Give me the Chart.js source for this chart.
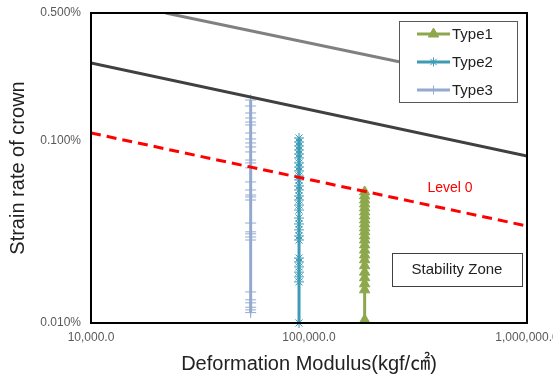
<!DOCTYPE html>
<html>
<head>
<meta charset="utf-8">
<script src="https://cdn.jsdelivr.net/npm/chart.js@4/dist/chart.umd.min.js"></script>
<style>
  html, body { margin: 0; padding: 0; background: #fff; }
  #wrap { width: 553px; height: 380px; }
</style>
</head>
<body>
<div id="wrap"><canvas id="strainChart"></canvas></div>
<script>
// values (strain rate in %)
const xTicks = [10000, 100000, 1000000];
const yTicks = [0.01, 0.1, 0.5];

const type1X = 180000;
const type1Y = [0.0523, 0.0497, 0.0472, 0.0449, 0.0427, 0.0406, 0.0386, 0.0367, 0.0349, 0.0332,
    0.0316, 0.0300, 0.0285, 0.0268, 0.0251, 0.0236, 0.0222, 0.0206, 0.0190, 0.0177, 0.0164, 0.0152, 0.0104];

const type2X = 90000;
const type2Y = [0.1033, 0.0982, 0.0934, 0.0888, 0.0844, 0.0803, 0.0754, 0.0716, 0.0681, 0.0639,
    0.0608, 0.0564, 0.0536, 0.0497, 0.0472, 0.0443, 0.0416, 0.0376, 0.0349, 0.0324, 0.0300, 0.0285,
    0.0227, 0.0216, 0.0203, 0.0190, 0.0179, 0.0168, 0.0100];

const type3X = 54000;
const type3Y = [0.1668, 0.1546, 0.1416, 0.1329, 0.1263, 0.1217, 0.1100, 0.1020, 0.0970, 0.0922,
    0.0866, 0.0782, 0.0754, 0.0708, 0.0593, 0.0536, 0.0503, 0.0491, 0.0472, 0.0353, 0.0316, 0.0308,
    0.0296, 0.0285, 0.0148, 0.0134, 0.0129, 0.0122, 0.0118, 0.0114];

// limit lines
const upperX = [22000, 259000];
const upperY = [0.5, 0.27];
const middleX = [10000, 1000000];
const middleY = [0.266, 0.0823];
const level0X = [10000, 1000000];
const level0Y = [0.110, 0.034];

const toPts = (xs, ys) => ys.map((y, i) => ({ x: Array.isArray(xs) ? xs[i] : xs, y: y }));

const FONT = '"Liberation Sans", "Noto Sans CJK KR", sans-serif';

const legendItems = [
    { label: "Type1", color: "#8DA84C", style: "triangle" },
    { label: "Type2", color: "#3E9BB5", style: "star" },
    { label: "Type3", color: "#93A9D0", style: "cross" },
];

const overlayPlugin = {
    id: "overlay",
    afterDatasetsDraw(chart) {
        const ctx = chart.ctx;
        const a = chart.chartArea;
        ctx.save();

        // legend box
        ctx.fillStyle = "#fff";
        ctx.fillRect(399, 21, 118, 81);
        ctx.strokeStyle = "#595959";
        ctx.lineWidth = 1;
        ctx.strokeRect(399.5, 21.5, 118, 81);
        ctx.font = "15px " + FONT;
        ctx.textBaseline = "middle";
        legendItems.forEach((it, i) => {
            const y = 34 + i * 28;
            ctx.strokeStyle = it.color;
            ctx.fillStyle = it.color;
            ctx.lineWidth = 3;
            ctx.beginPath();
            ctx.moveTo(417, y);
            ctx.lineTo(450, y);
            ctx.stroke();
            ctx.lineWidth = 1;
            Chart.helpers.drawPoint(ctx, {
                pointStyle: it.style, radius: it.style === "triangle" ? 6 : 4.5, borderWidth: 1, rotation: 0
            }, 433.5, y);
            ctx.fillStyle = "#222";
            ctx.textAlign = "left";
            ctx.fillText(it.label, 452, y + 1);
        });

        // Level 0 label
        ctx.fillStyle = "#FF0000";
        ctx.font = "14px " + FONT;
        ctx.textAlign = "center";
        ctx.fillText("Level 0", 450, 188);

        // Stability Zone box
        ctx.fillStyle = "#fff";
        ctx.fillRect(392, 253, 131, 33);
        ctx.strokeStyle = "#404040";
        ctx.lineWidth = 1;
        ctx.strokeRect(392.5, 253.5, 130, 33);
        ctx.fillStyle = "#222";
        ctx.font = "15px " + FONT;
        ctx.fillText("Stability Zone", 457, 270);

        // plot frame
        ctx.strokeStyle = "#000";
        ctx.lineWidth = 2;
        ctx.strokeRect(a.left, a.top, a.right - a.left, a.bottom - a.top);
        ctx.restore();
    },
};

const seriesLine = (label, color, xs, ys, style, r) => ({
    label: label,
    data: toPts(xs, ys),
    showLine: true,
    borderColor: color,
    backgroundColor: color,
    borderWidth: 3,
    pointStyle: style,
    pointRadius: r,
    pointBorderWidth: 1,
    pointBorderColor: color,
    pointBackgroundColor: color,
    clip: false,
});

const refLine = (label, color, xs, ys, dash) => ({
    label: label,
    data: toPts(xs, ys),
    showLine: true,
    borderColor: color,
    borderWidth: 3,
    borderDash: dash || [],
    pointRadius: 0,
});

new Chart(document.getElementById("strainChart"), {
    type: "scatter",
    data: {
        datasets: [
            refLine("upper", "#808080", upperX, upperY),
            refLine("middle", "#404040", middleX, middleY),
            refLine("Level 0", "#FF0000", level0X, level0Y, [10, 6]),
            seriesLine("Type3", "#93A9D0", type3X, type3Y, "cross", 5.5),
            seriesLine("Type2", "#3E9BB5", type2X, type2Y, "star", 5),
            seriesLine("Type1", "#8DA84C", type1X, type1Y, "triangle", 6),
        ],
    },
    options: {
        responsive: true,
        maintainAspectRatio: false,
        animation: false,
        layout: { padding: { top: 13, right: 26, left: 0, bottom: 0 } },
        plugins: { legend: { display: false }, tooltip: { enabled: false } },
        scales: {
            x: {
                type: "logarithmic",
                min: 10000,
                max: 1000000,
                afterBuildTicks: (s) => { s.ticks = xTicks.map((v) => ({ value: v })); },
                afterFit: (s) => { s.height = 57; s.paddingLeft = 0; s.paddingRight = 0; },
                grid: { display: false, drawTicks: false },
                border: { display: false },
                ticks: {
                    color: "#595959",
                    font: { family: FONT, size: 12 },
                    padding: 7,
                    maxRotation: 0,
                    callback: (v) => Number(v).toLocaleString("en-US") + ".0",
                },
                title: {
                    display: true,
                    text: "Deformation Modulus(kgf/㎠)",
                    color: "#222",
                    font: { family: FONT, size: 20 },
                    padding: { top: 10 },
                },
            },
            y: {
                type: "logarithmic",
                min: 0.01,
                max: 0.5,
                afterBuildTicks: (s) => { s.ticks = yTicks.map((v) => ({ value: v })); },
                afterFit: (s) => { s.width = 91; s.paddingTop = 0; s.paddingBottom = 0; },
                grid: { display: false, drawTicks: false },
                border: { display: false },
                ticks: {
                    color: "#595959",
                    font: { family: FONT, size: 12 },
                    padding: 10,
                    callback: (v) => Number(v).toFixed(3) + "%",
                },
                title: {
                    display: true,
                    text: "Strain rate of crown",
                    color: "#222",
                    font: { family: FONT, size: 20 },
                    padding: { top: 6, bottom: 8 },
                },
            },
        },
    },
    plugins: [overlayPlugin],
});
</script>
</body>
</html>
